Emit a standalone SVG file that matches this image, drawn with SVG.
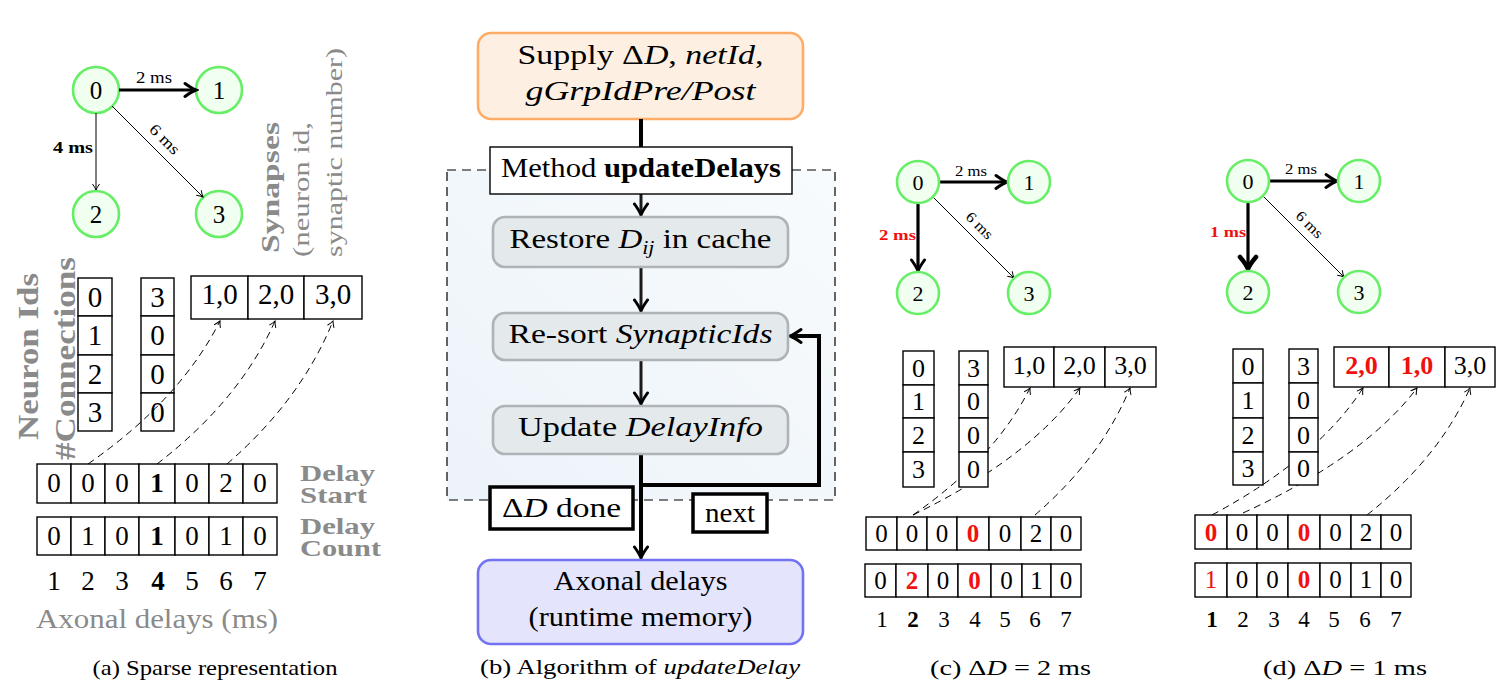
<svg xmlns="http://www.w3.org/2000/svg" width="1512" height="694" viewBox="0 0 1512 694">
<style>
text{font-family:"Liberation Serif","Times New Roman",serif;fill:#000}
.c{text-anchor:middle}
.e{text-anchor:end}
.g{fill:#8a8a8a}
.b{font-weight:bold}
.i{font-style:italic}
.r{fill:#f01010}
.cell{fill:#fff;stroke:#000;stroke-width:1.4}
.nd{fill:#f0fff0;stroke:#66ee66;stroke-width:2.6}
.thin{fill:none;stroke:#000;stroke-width:1}
.thk{fill:none;stroke:#000;stroke-width:3.2}
.dash{fill:none;stroke:#000;stroke-width:1;stroke-dasharray:7 5}
.flow{fill:none;stroke:#1a1a1a;stroke-width:3}
.flowb{fill:none;stroke:#000;stroke-width:4}
</style>
<defs>
<marker id="mThin" markerUnits="userSpaceOnUse" viewBox="-8 -5 10 10" markerWidth="10" markerHeight="10" refX="0" refY="0" orient="auto">
<path d="M-6,-3.5 Q-2.5,-1 0,0 Q-2.5,1 -6,3.5" fill="none" stroke="#000" stroke-width="1"/>
</marker>
<marker id="mThick" markerUnits="userSpaceOnUse" viewBox="-14 -9 17 18" markerWidth="17" markerHeight="18" refX="-2" refY="0" orient="auto">
<path d="M-11,-6.5 Q-4,-1.5 0,0 Q-4,1.5 -11,6.5" fill="none" stroke="#000" stroke-width="3" stroke-linecap="round"/>
</marker>
<marker id="mHeavy" markerUnits="userSpaceOnUse" viewBox="-16 -11 20 22" markerWidth="20" markerHeight="22" refX="-3" refY="0" orient="auto">
<path d="M-12,-8 Q-5,-2 0,0 Q-5,2 -12,8" fill="none" stroke="#000" stroke-width="4.5" stroke-linecap="round"/>
</marker>
<linearGradient id="gReg" x1="0" y1="1" x2="1" y2="0">
<stop offset="0" stop-color="#ecf3f9"/>
<stop offset="1" stop-color="#f8fbfd"/>
</linearGradient>
</defs>

<!-- ===== Panel (a) ===== -->
<g id="a-node-0"><circle class="nd" cx="96" cy="90" r="23"/><text class="c" x="96" y="99" font-size="25">0</text></g>
<g id="a-node-1"><circle class="nd" cx="219" cy="90" r="23"/><text class="c" x="219" y="99" font-size="25">1</text></g>
<g id="a-node-2"><circle class="nd" cx="96" cy="214" r="23"/><text class="c" x="96" y="223" font-size="25">2</text></g>
<g id="a-node-3"><circle class="nd" cx="219" cy="214" r="23"/><text class="c" x="219" y="223" font-size="25">3</text></g>

<g id="a-labels">
<text class="g b" font-size="30" transform="translate(38,440) rotate(-90)" textLength="167" lengthAdjust="spacingAndGlyphs">Neuron Ids</text>
<text class="g b" font-size="30" transform="translate(75,460) rotate(-90)" textLength="203" lengthAdjust="spacingAndGlyphs">#Connections</text>
<text class="g b" font-size="26" transform="translate(279,253) rotate(-90)" textLength="131" lengthAdjust="spacingAndGlyphs">Synapses</text>
<text class="g" font-size="24" transform="translate(309,257) rotate(-90)" textLength="135" lengthAdjust="spacingAndGlyphs">(neuron id,</text>
<text class="g" font-size="24" transform="translate(342,257) rotate(-90)" textLength="209" lengthAdjust="spacingAndGlyphs">synaptic number)</text>
<text class="g b" font-size="23" x="300" y="481" textLength="75" lengthAdjust="spacingAndGlyphs">Delay</text>
<text class="g b" font-size="23" x="300" y="503" textLength="67" lengthAdjust="spacingAndGlyphs">Start</text>
<text class="g b" font-size="23" x="300" y="534" textLength="75" lengthAdjust="spacingAndGlyphs">Delay</text>
<text class="g b" font-size="23" x="300" y="556" textLength="81" lengthAdjust="spacingAndGlyphs">Count</text>
<text class="g" font-size="27" x="36" y="628" textLength="242" lengthAdjust="spacingAndGlyphs">Axonal delays (ms)</text>
<text class="c" font-size="21" x="215" y="675" textLength="245" lengthAdjust="spacingAndGlyphs">(a) Sparse representation</text>
</g>

<g id="a-neuron-ids">
<rect class="cell" x="78" y="278" width="34" height="38"/><rect class="cell" x="78" y="316" width="34" height="39"/><rect class="cell" x="78" y="355" width="34" height="38"/><rect class="cell" x="78" y="393" width="34" height="38"/>
<text class="c" font-size="29" x="95" y="307">0</text><text class="c" font-size="29" x="95" y="345">1</text><text class="c" font-size="29" x="95" y="384">2</text><text class="c" font-size="29" x="95" y="422">3</text>
</g>
<g id="a-connections">
<rect class="cell" x="141" y="278" width="33" height="38"/><rect class="cell" x="141" y="316" width="33" height="39"/><rect class="cell" x="141" y="355" width="33" height="38"/><rect class="cell" x="141" y="393" width="33" height="38"/>
<text class="c" font-size="29" x="157.5" y="307">3</text><text class="c" font-size="29" x="157.5" y="345">0</text><text class="c" font-size="29" x="157.5" y="384">0</text><text class="c" font-size="29" x="157.5" y="422">0</text>
</g>
<g id="a-synapses">
<rect class="cell" x="191" y="276" width="57" height="43"/><rect class="cell" x="248" y="276" width="56" height="43"/><rect class="cell" x="304" y="276" width="58" height="43"/>
<text class="c" font-size="29" x="219.5" y="304">1,0</text><text class="c" font-size="29" x="276" y="304">2,0</text><text class="c" font-size="29" x="333" y="304">3,0</text>
</g>
<g id="a-delay-start">
<rect class="cell" x="37" y="464" width="34" height="39"/><rect class="cell" x="71" y="464" width="34" height="39"/><rect class="cell" x="105" y="464" width="34" height="39"/><rect class="cell" x="139" y="464" width="36" height="39"/><rect class="cell" x="175" y="464" width="34" height="39"/><rect class="cell" x="209" y="464" width="34" height="39"/><rect class="cell" x="243" y="464" width="34" height="39"/>
<text class="c" font-size="27" x="54" y="492">0</text><text class="c" font-size="27" x="88" y="492">0</text><text class="c" font-size="27" x="122" y="492">0</text><text class="c b" font-size="27" x="157" y="492">1</text><text class="c" font-size="27" x="192" y="492">0</text><text class="c" font-size="27" x="226" y="492">2</text><text class="c" font-size="27" x="260" y="492">0</text>
</g>
<g id="a-delay-count">
<rect class="cell" x="37" y="517" width="34" height="38"/><rect class="cell" x="71" y="517" width="34" height="38"/><rect class="cell" x="105" y="517" width="34" height="38"/><rect class="cell" x="139" y="517" width="36" height="38"/><rect class="cell" x="175" y="517" width="34" height="38"/><rect class="cell" x="209" y="517" width="34" height="38"/><rect class="cell" x="243" y="517" width="34" height="38"/>
<text class="c" font-size="27" x="54" y="545">0</text><text class="c" font-size="27" x="88" y="545">1</text><text class="c" font-size="27" x="122" y="545">0</text><text class="c b" font-size="27" x="157" y="545">1</text><text class="c" font-size="27" x="192" y="545">0</text><text class="c" font-size="27" x="226" y="545">1</text><text class="c" font-size="27" x="260" y="545">0</text>
</g>
<g id="a-axis">
<text class="c" font-size="27" x="54" y="590">1</text><text class="c" font-size="27" x="88" y="590">2</text><text class="c" font-size="27" x="122" y="590">3</text><text class="c b" font-size="27" x="158" y="590">4</text><text class="c" font-size="27" x="192" y="590">5</text><text class="c" font-size="27" x="226" y="590">6</text><text class="c" font-size="27" x="260" y="590">7</text>
</g>

<!-- ===== Panel (b) ===== -->
<g id="b-region"><rect x="447" y="170" width="388" height="330" fill="url(#gReg)" stroke="#000" stroke-width="1.2" stroke-dasharray="9 6"/></g>
<g id="b-supply">
<rect x="478" y="33" width="325" height="86" rx="13" fill="#fdf0e2" stroke="#ffad66" stroke-width="2.6"/>
<text class="c" font-size="27" x="640.5" y="64" textLength="246" lengthAdjust="spacingAndGlyphs">Supply Δ<tspan class="i">D</tspan>, <tspan class="i">netId</tspan>,</text>
<text class="c i" font-size="27" x="640.5" y="100" textLength="230" lengthAdjust="spacingAndGlyphs">gGrpIdPre/Post</text>
</g>

<g id="connectors">
<!-- panel (a) graph -->
<line class="thk" x1="119" y1="90" x2="194" y2="90" stroke-width="3.6" marker-end="url(#mThick)"/>
<line class="thin" x1="96" y1="113" x2="96" y2="190" marker-end="url(#mThin)"/>
<line class="thin" x1="112" y1="106" x2="203" y2="197" marker-end="url(#mThin)"/>
<!-- panel (a) pointers -->
<path class="dash" d="M88,464 Q180,400 220,321" marker-end="url(#mThin)"/>
<path class="dash" d="M157,464 Q240,400 275,321" marker-end="url(#mThin)"/>
<path class="dash" d="M227,464 Q301,400 333,321" marker-end="url(#mThin)"/>
<!-- panel (b) flow -->
<line class="flowb" x1="641" y1="119" x2="641" y2="147"/>
<line class="flow" x1="641" y1="194" x2="641" y2="213" marker-end="url(#mThick)"/>
<line class="flow" x1="641" y1="267" x2="641" y2="309" marker-end="url(#mThick)"/>
<line class="flow" x1="641" y1="360" x2="641" y2="402" marker-end="url(#mThick)"/>
<line class="flowb" x1="641" y1="454" x2="641" y2="556" marker-end="url(#mThick)"/>
<path class="flowb" stroke-width="3.5" d="M641,485 H819 V336 H792" marker-end="url(#mThick)"/>
<!-- panel (c) graph -->
<line class="thk" x1="939" y1="182" x2="1005" y2="182" stroke-width="3" marker-end="url(#mThick)"/>
<line class="thk" x1="918" y1="203" x2="918" y2="269" stroke-width="3.6" marker-end="url(#mThick)"/>
<line class="thin" x1="933" y1="197" x2="1014" y2="278" marker-end="url(#mThin)"/>
<!-- panel (c) pointers -->
<path class="dash" d="M913,515 Q995,458 1030,388" marker-end="url(#mThin)"/>
<path class="dash" d="M913,515 Q1030,458 1080,388" marker-end="url(#mThin)"/>
<path class="dash" d="M1035,515 Q1101,458 1130,388" marker-end="url(#mThin)"/>
<!-- panel (d) graph -->
<line class="thk" x1="1269" y1="181" x2="1335" y2="181" stroke-width="3" marker-end="url(#mThick)"/>
<line class="thk" x1="1248" y1="202" x2="1248" y2="266" stroke-width="5.5" marker-end="url(#mHeavy)"/>
<line class="thin" x1="1263" y1="196" x2="1344" y2="277" marker-end="url(#mThin)"/>
<!-- panel (d) pointers -->
<path class="dash" d="M1212,515 Q1318,458 1363,388" marker-end="url(#mThin)"/>
<path class="dash" d="M1243,513 Q1365,457 1417,388" marker-end="url(#mThin)"/>
<path class="dash" d="M1367,515 Q1439,458 1470,388" marker-end="url(#mThin)"/>
</g>

<g id="edge-labels">
<text class="c" font-size="16" x="154" y="83" textLength="36" lengthAdjust="spacingAndGlyphs">2 ms</text>
<text class="e b" font-size="16" x="93" y="153" textLength="40" lengthAdjust="spacingAndGlyphs">4 ms</text>
<text class="c" font-size="16" transform="translate(161,143) rotate(45)" textLength="36" lengthAdjust="spacingAndGlyphs">6 ms</text>
<text class="c" font-size="15" x="971" y="176" textLength="32" lengthAdjust="spacingAndGlyphs">2 ms</text>
<text class="e b r" font-size="15" x="916" y="240" textLength="37" lengthAdjust="spacingAndGlyphs">2 ms</text>
<text class="c" font-size="15" transform="translate(976,229) rotate(45)" textLength="32" lengthAdjust="spacingAndGlyphs">6 ms</text>
<text class="c" font-size="15" x="1301" y="174" textLength="32" lengthAdjust="spacingAndGlyphs">2 ms</text>
<text class="e b r" font-size="15" x="1246" y="237" textLength="36" lengthAdjust="spacingAndGlyphs">1 ms</text>
<text class="c" font-size="15" transform="translate(1306,228) rotate(45)" textLength="32" lengthAdjust="spacingAndGlyphs">6 ms</text>
</g>

<g id="b-method">
<rect x="490" y="147" width="302" height="47" fill="#fff" stroke="#000" stroke-width="1.4"/>
<text class="c" font-size="27" x="641" y="177" textLength="280" lengthAdjust="spacingAndGlyphs">Method <tspan class="b">updateDelays</tspan></text>
</g>
<g id="b-restore">
<rect x="493" y="217" width="295" height="50" rx="12" fill="#e4e9ec" stroke="#aeb3b7" stroke-width="2.6"/>
<text class="c" font-size="27" x="640.5" y="248" textLength="262" lengthAdjust="spacingAndGlyphs">Restore <tspan class="i">D</tspan><tspan class="i" font-size="18" dy="6">ij</tspan><tspan dy="-6"> in cache</tspan></text>
</g>
<g id="b-resort">
<rect x="493" y="313" width="295" height="47" rx="12" fill="#e4e9ec" stroke="#aeb3b7" stroke-width="2.6"/>
<text class="c" font-size="27" x="640.5" y="343" textLength="264" lengthAdjust="spacingAndGlyphs">Re-sort <tspan class="i">SynapticIds</tspan></text>
</g>
<g id="b-update">
<rect x="493" y="406" width="295" height="48" rx="12" fill="#e4e9ec" stroke="#aeb3b7" stroke-width="2.6"/>
<text class="c" font-size="27" x="640.5" y="436" textLength="245" lengthAdjust="spacingAndGlyphs">Update <tspan class="i">DelayInfo</tspan></text>
</g>
<g id="b-done">
<rect x="490" y="487" width="143" height="42" fill="#fff" stroke="#000" stroke-width="3.5"/>
<text class="c" font-size="27" x="561.5" y="517" textLength="119" lengthAdjust="spacingAndGlyphs">Δ<tspan class="i">D</tspan> done</text>
</g>
<g id="b-next">
<rect x="693" y="494" width="74" height="38" fill="#fff" stroke="#000" stroke-width="3.5"/>
<text class="c" font-size="27" x="730" y="522" textLength="50" lengthAdjust="spacingAndGlyphs">next</text>
</g>
<g id="b-axonal">
<rect x="478" y="560" width="325" height="84" rx="13" fill="#e4e4fc" stroke="#7272f2" stroke-width="2.6"/>
<text class="c" font-size="27" x="640.5" y="590" textLength="174" lengthAdjust="spacingAndGlyphs">Axonal delays</text>
<text class="c" font-size="27" x="640.5" y="626" textLength="224" lengthAdjust="spacingAndGlyphs">(runtime memory)</text>
</g>
<text class="c" font-size="21" x="640" y="674" textLength="320" lengthAdjust="spacingAndGlyphs">(b) Algorithm of <tspan class="i">updateDelay</tspan></text>

<!-- ===== Panel (c) ===== -->
<g id="c-node-0"><circle class="nd" cx="918" cy="182" r="21"/><text class="c" x="918" y="190" font-size="22">0</text></g>
<g id="c-node-1"><circle class="nd" cx="1029" cy="182" r="21"/><text class="c" x="1029" y="190" font-size="22">1</text></g>
<g id="c-node-2"><circle class="nd" cx="918" cy="293" r="21"/><text class="c" x="918" y="301" font-size="22">2</text></g>
<g id="c-node-3"><circle class="nd" cx="1029" cy="293" r="21"/><text class="c" x="1029" y="301" font-size="22">3</text></g>
<g id="c-neuron-ids">
<rect class="cell" x="903" y="351" width="31" height="34"/><rect class="cell" x="903" y="385" width="31" height="33"/><rect class="cell" x="903" y="418" width="31" height="34"/><rect class="cell" x="903" y="452" width="31" height="35"/>
<text class="c" font-size="26" x="918.5" y="377">0</text><text class="c" font-size="26" x="918.5" y="410">1</text><text class="c" font-size="26" x="918.5" y="444">2</text><text class="c" font-size="26" x="918.5" y="478">3</text>
</g>
<g id="c-connections">
<rect class="cell" x="959" y="351" width="29" height="34"/><rect class="cell" x="959" y="385" width="29" height="33"/><rect class="cell" x="959" y="418" width="29" height="34"/><rect class="cell" x="959" y="452" width="29" height="35"/>
<text class="c" font-size="26" x="973.5" y="377">3</text><text class="c" font-size="26" x="973.5" y="410">0</text><text class="c" font-size="26" x="973.5" y="444">0</text><text class="c" font-size="26" x="973.5" y="478">0</text>
</g>
<g id="c-synapses">
<rect class="cell" x="1004" y="347" width="50" height="40"/><rect class="cell" x="1054" y="347" width="51" height="40"/><rect class="cell" x="1105" y="347" width="51" height="40"/>
<text class="c" font-size="26" x="1029" y="374">1,0</text><text class="c" font-size="26" x="1079.5" y="374">2,0</text><text class="c" font-size="26" x="1130.5" y="374">3,0</text>
</g>
<g id="c-delay-start">
<rect class="cell" x="866" y="517" width="31" height="33"/><rect class="cell" x="897" y="517" width="30" height="33"/><rect class="cell" x="927" y="517" width="30" height="33"/><rect class="cell" x="957" y="517" width="32" height="33"/><rect class="cell" x="989" y="517" width="32" height="33"/><rect class="cell" x="1021" y="517" width="30" height="33"/><rect class="cell" x="1051" y="517" width="30" height="33"/>
<text class="c" font-size="25" x="881.5" y="542">0</text><text class="c" font-size="25" x="912" y="542">0</text><text class="c" font-size="25" x="942" y="542">0</text><text class="c b r" font-size="25" x="973" y="542">0</text><text class="c" font-size="25" x="1005" y="542">0</text><text class="c" font-size="25" x="1036" y="542">2</text><text class="c" font-size="25" x="1066" y="542">0</text>
</g>
<g id="c-delay-count">
<rect class="cell" x="865" y="564" width="31" height="33"/><rect class="cell" x="896" y="564" width="32" height="33"/><rect class="cell" x="928" y="564" width="30" height="33"/><rect class="cell" x="958" y="564" width="33" height="33"/><rect class="cell" x="991" y="564" width="31" height="33"/><rect class="cell" x="1022" y="564" width="29" height="33"/><rect class="cell" x="1051" y="564" width="30" height="33"/>
<text class="c" font-size="25" x="880.5" y="589">0</text><text class="c b r" font-size="25" x="912" y="589">2</text><text class="c" font-size="25" x="943" y="589">0</text><text class="c b r" font-size="25" x="974.5" y="589">0</text><text class="c" font-size="25" x="1006.5" y="589">0</text><text class="c" font-size="25" x="1036.5" y="589">1</text><text class="c" font-size="25" x="1066" y="589">0</text>
</g>
<g id="c-axis">
<text class="c" font-size="23" x="882" y="627">1</text><text class="c b" font-size="23" x="913" y="627">2</text><text class="c" font-size="23" x="944" y="627">3</text><text class="c" font-size="23" x="975" y="627">4</text><text class="c" font-size="23" x="1005" y="627">5</text><text class="c" font-size="23" x="1035" y="627">6</text><text class="c" font-size="23" x="1066" y="627">7</text>
</g>
<text class="c" font-size="21" x="1010.5" y="675" textLength="161" lengthAdjust="spacingAndGlyphs">(c) Δ<tspan class="i">D</tspan> = 2 ms</text>

<!-- ===== Panel (d) ===== -->
<g id="d-node-0"><circle class="nd" cx="1248" cy="181" r="21"/><text class="c" x="1248" y="189" font-size="22">0</text></g>
<g id="d-node-1"><circle class="nd" cx="1359" cy="181" r="21"/><text class="c" x="1359" y="189" font-size="22">1</text></g>
<g id="d-node-2"><circle class="nd" cx="1248" cy="292" r="21"/><text class="c" x="1248" y="300" font-size="22">2</text></g>
<g id="d-node-3"><circle class="nd" cx="1359" cy="292" r="21"/><text class="c" x="1359" y="300" font-size="22">3</text></g>
<g id="d-neuron-ids">
<rect class="cell" x="1233" y="349" width="30" height="34"/><rect class="cell" x="1233" y="383" width="30" height="35"/><rect class="cell" x="1233" y="418" width="30" height="34"/><rect class="cell" x="1233" y="452" width="30" height="33"/>
<text class="c" font-size="26" x="1248" y="375">0</text><text class="c" font-size="26" x="1248" y="409">1</text><text class="c" font-size="26" x="1248" y="444">2</text><text class="c" font-size="26" x="1248" y="477">3</text>
</g>
<g id="d-connections">
<rect class="cell" x="1289" y="349" width="29" height="34"/><rect class="cell" x="1289" y="383" width="29" height="35"/><rect class="cell" x="1289" y="418" width="29" height="34"/><rect class="cell" x="1289" y="452" width="29" height="33"/>
<text class="c" font-size="26" x="1303.5" y="375">3</text><text class="c" font-size="26" x="1303.5" y="409">0</text><text class="c" font-size="26" x="1303.5" y="444">0</text><text class="c" font-size="26" x="1303.5" y="477">0</text>
</g>
<g id="d-synapses">
<rect class="cell" x="1334" y="347" width="55" height="40"/><rect class="cell" x="1389" y="347" width="56" height="40"/><rect class="cell" x="1445" y="347" width="50" height="40"/>
<text class="c b r" font-size="26" x="1361.5" y="374">2,0</text><text class="c b r" font-size="26" x="1417" y="374">1,0</text><text class="c" font-size="26" x="1470" y="374">3,0</text>
</g>
<g id="d-delay-start">
<rect class="cell" x="1195" y="515" width="32" height="34"/><rect class="cell" x="1227" y="515" width="30" height="34"/><rect class="cell" x="1257" y="515" width="31" height="34"/><rect class="cell" x="1288" y="515" width="32" height="34"/><rect class="cell" x="1320" y="515" width="31" height="34"/><rect class="cell" x="1351" y="515" width="30" height="34"/><rect class="cell" x="1381" y="515" width="30" height="34"/>
<text class="c b r" font-size="25" x="1211" y="541">0</text><text class="c" font-size="25" x="1242" y="541">0</text><text class="c" font-size="25" x="1272.5" y="541">0</text><text class="c b r" font-size="25" x="1304" y="541">0</text><text class="c" font-size="25" x="1335.5" y="541">0</text><text class="c" font-size="25" x="1366" y="541">2</text><text class="c" font-size="25" x="1396" y="541">0</text>
</g>
<g id="d-delay-count">
<rect class="cell" x="1195" y="563" width="32" height="34"/><rect class="cell" x="1227" y="563" width="30" height="34"/><rect class="cell" x="1257" y="563" width="31" height="34"/><rect class="cell" x="1288" y="563" width="32" height="34"/><rect class="cell" x="1320" y="563" width="31" height="34"/><rect class="cell" x="1351" y="563" width="30" height="34"/><rect class="cell" x="1381" y="563" width="30" height="34"/>
<text class="c r" font-size="25" x="1211" y="588">1</text><text class="c" font-size="25" x="1242" y="588">0</text><text class="c" font-size="25" x="1272.5" y="588">0</text><text class="c b r" font-size="25" x="1304" y="588">0</text><text class="c" font-size="25" x="1335.5" y="588">0</text><text class="c" font-size="25" x="1366" y="588">1</text><text class="c" font-size="25" x="1396" y="588">0</text>
</g>
<g id="d-axis">
<text class="c b" font-size="23" x="1212" y="627">1</text><text class="c" font-size="23" x="1243" y="627">2</text><text class="c" font-size="23" x="1274" y="627">3</text><text class="c" font-size="23" x="1304" y="627">4</text><text class="c" font-size="23" x="1334" y="627">5</text><text class="c" font-size="23" x="1365" y="627">6</text><text class="c" font-size="23" x="1396" y="627">7</text>
</g>
<text class="c" font-size="21" x="1345" y="675" textLength="164" lengthAdjust="spacingAndGlyphs">(d) Δ<tspan class="i">D</tspan> = 1 ms</text>
</svg>
